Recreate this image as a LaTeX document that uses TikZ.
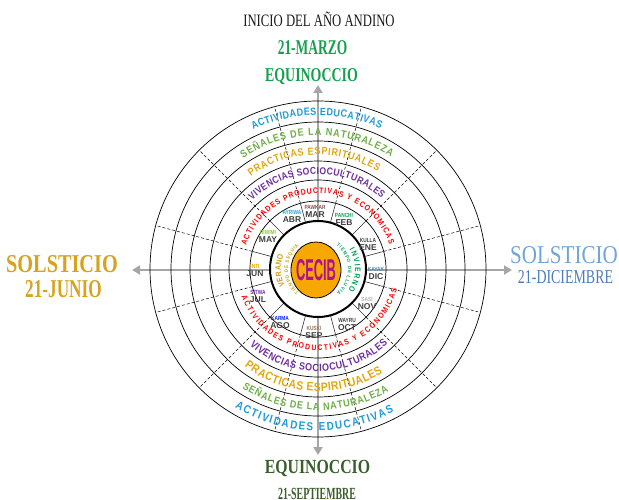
\documentclass[tikz,border=0pt]{standalone}
\usepackage{fontspec}
\setmainfont{Liberation Serif}
\newfontfamily\sansb{Liberation Sans}
\newfontfamily\sansn[FakeStretch=0.86]{Liberation Sans}
\usetikzlibrary{decorations.text,arrows.meta,calc}
\definecolor{axisgray}{HTML}{A6A6A6}
\definecolor{educ}{HTML}{1E9BD7}
\definecolor{senal}{HTML}{6DAE45}
\definecolor{pract}{HTML}{E2A70F}
\definecolor{viven}{HTML}{6E2F9E}
\definecolor{produ}{HTML}{FF0000}
\definecolor{titgreen}{HTML}{16A04E}
\definecolor{solgold}{HTML}{D8A21C}
\definecolor{solblue}{HTML}{6FA6DA}
\definecolor{dicblue}{HTML}{4A7EBB}
\definecolor{septgreen}{HTML}{3A5E2A}
\definecolor{cecibfill}{HTML}{F7A800}
\definecolor{cecibtext}{HTML}{B0108C}
\definecolor{veranoc}{HTML}{C9A010}
\definecolor{inviernoc}{HTML}{00A050}
\definecolor{monthgray}{HTML}{404040}
\definecolor{cpawkar}{HTML}{8B4B4B}
\definecolor{cayriwa}{HTML}{1CA8DD}
\definecolor{criwimi}{HTML}{8CC63F}
\definecolor{cinti}{HTML}{E0A800}
\definecolor{csitwa}{HTML}{7030A0}
\definecolor{ckarma}{HTML}{0020F0}
\definecolor{ckuski}{HTML}{A07050}
\definecolor{cwayru}{HTML}{404040}
\definecolor{csasi}{HTML}{B0B0B0}
\definecolor{ckayak}{HTML}{4F81BD}
\definecolor{ckulla}{HTML}{404040}
\definecolor{cpanchi}{HTML}{00A650}
\tikzset{
 axisline/.style={line width=2.5pt, draw=axisgray, arrows={Triangle[length=8pt,width=9pt]-Triangle[length=8pt,width=9pt]}},
 ringline/.style={draw=black, line width=0.7pt},
 sectorline/.style={draw=black, line width=0.5pt, dash pattern=on 3pt off 2pt},
 divider/.style={draw=black!80, line width=0.6pt},
 arctext/.style n args={3}{decorate, decoration={text along path, text align=fit to path, text color=#1, text={|\sansn\bfseries\fontsize{#2}{#2}\selectfont|#3}}},
 monthlbl/.style={align=center, font=\sansb\bfseries\fontsize{8.5}{8}\selectfont, text=monthgray, inner sep=0pt},
 titletext/.style={anchor=base, inner sep=0pt}
}
\newcommand\mlab[2]{{\fontsize{6}{6}\selectfont\color{#1}\scalebox{0.8}[1]{#2}}}
\begin{document}
\begin{tikzpicture}[x=1pt,y=1pt]
\useasboundingbox (0,0) rectangle (619,499);
\coordinate (C) at (318,230);
% axes
\coordinate (axT) at (318,414);
\coordinate (axB) at (318,44);
\coordinate (axL) at (132,229);
\coordinate (axR) at (512,229);
\draw[axisline] (axB) -- (axT);
\draw[axisline] (axL) -- (axR);
% rings
\foreach \r in {68,89,108,128,147,168} \draw[ringline] (C) circle (\r);
% dashed sector lines
\foreach \a in {15,45,...,345} \draw[sectorline] ($(C)+(\a:68)$) -- ($(C)+(\a:168)$);
% inner disc
\fill[white] (C) circle (48);
\foreach \a in {15,45,...,345} \draw[divider] ($(C)+(\a:48)$) -- ($(C)+(\a:68)$);
\draw[line width=2pt] (C) circle (48);
% top arc texts
\path[arctext={educ}{10.5}{ACTIVIDADES EDUCATIVAS}] ($(C)+(115:153.7)$) arc[start angle=115,end angle=66,radius=153.7];
\path[arctext={senal}{10.5}{SEÑALES DE LA NATURALEZA}] ($(C)+(124:133.7)$) arc[start angle=124,end angle=57,radius=133.7];
\path[arctext={pract}{10.5}{PRACTICAS ESPIRITUALES}] ($(C)+(126:114.2)$) arc[start angle=126,end angle=58.5,radius=114.2];
\path[arctext={viven}{10}{VIVENCIAS SOCIOCULTURALES}] ($(C)+(134:94.9)$) arc[start angle=134,end angle=48,radius=94.9];
\path[arctext={produ}{8}{ACTIVIDADES PRODUCTIVAS  Y  ECONOMICAS}] ($(C)+(162:75.6)$) arc[start angle=162,end angle=19,radius=75.6];
% bottom arc texts
\path[arctext={educ}{11.5}{ACTIVIDADES EDUCATIVAS}] ($(C)+(239:161.6)$) arc[start angle=239,end angle=298,radius=161.6];
\path[arctext={senal}{10.5}{SEÑALES DE LA NATURALEZA}] ($(C)+(237.5:141.3)$) arc[start angle=237.5,end angle=300,radius=141.3];
\path[arctext={pract}{12}{PRACTICAS ESPIRITUALES}] ($(C)+(233:122.3)$) arc[start angle=233,end angle=302,radius=122.3];
\path[arctext={viven}{10.5}{VIVENCIAS SOCIOCULTURALES}] ($(C)+(228:102.3)$) arc[start angle=228,end angle=313,radius=102.3];
\path[arctext={produ}{8}{ACTIVIDADES  PRODUCTIVAS Y  ECONOMICAS}] ($(C)+(200:81.4)$) arc[start angle=200,end angle=346,radius=81.4];
% inner texts
\path[arctext={veranoc}{8}{VERANO}] ($(C)+(207:37)$) arc[start angle=207,end angle=158,radius=37];
\path[arctext={veranoc}{5}{TIEMPO DE SEQUIA}] ($(C)+(230:30)$) arc[start angle=230,end angle=130,radius=30];
\path[arctext={inviernoc}{8}{INVIERNO}] ($(C)+(32:37)$) arc[start angle=32,end angle=-35,radius=37];
\path[arctext={inviernoc}{5}{TIEMPO DE LLUVIA}] ($(C)+(52:30)$) arc[start angle=52,end angle=-52,radius=30];
% CECIB
\draw[line width=0.8pt, fill=cecibfill] (316,229) ellipse [x radius=25, y radius=28];
\node[inner sep=0pt, text=cecibtext] (cecib) at (316,229) {\resizebox{40pt}{21pt}{\sansb\bfseries CECIB}};
% months
\node[monthlbl] (mMAR) at (315,288) {\mlab{cpawkar}{PAWKAR}\\MAR};
\node[monthlbl] (mFEB) at (344,280) {\mlab{cpanchi}{PANCHI}\\FEB};
\node[monthlbl] (mENE) at (368,255) {\mlab{ckulla}{KULLA}\\ENE};
\node[monthlbl] (mDIC) at (376,226) {\mlab{ckayak}{KAYAK}\\DIC};
\node[monthlbl] (mNOV) at (367,196) {\mlab{csasi}{SASI}\\NOV};
\node[monthlbl] (mOCT) at (347,175) {\mlab{cwayru}{WAYRU}\\OCT};
\node[monthlbl] (mSEP) at (314,167) {\mlab{ckuski}{KUSKI}\\SEP};
\node[monthlbl] (mAGO) at (280,177) {\mlab{ckarma}{KARMA}\\AGO};
\node[monthlbl] (mJUL) at (258,203) {\mlab{csitwa}{SITWA}\\JUL};
\node[monthlbl] (mJUN) at (255,229) {\mlab{cinti}{INTI}\\JUN};
\node[monthlbl] (mMAY) at (268,263) {\mlab{criwimi}{RIWIMI}\\MAY};
\node[monthlbl] (mABR) at (292,283) {\mlab{cayriwa}{AYRIWA}\\ABR};
% titles
\node[titletext, font=\fontsize{17.4}{17.4}\selectfont, text=black!90] (inicio) at (319,472) {\scalebox{0.73}[1]{INICIO DEL AÑO ANDINO}};
\node[titletext, font=\bfseries\fontsize{21}{21}\selectfont, text=titgreen] (marzo) at (312.5,444) {\scalebox{0.64}[1]{21-MARZO}};
\node[titletext, font=\bfseries\fontsize{19.6}{19.6}\selectfont, text=titgreen] (eqtop) at (311.5,417) {\scalebox{0.71}[1]{EQUINOCCIO}};
\node[titletext, font=\bfseries\fontsize{25.7}{25.7}\selectfont, text=solgold] (solL) at (62,227) {\scalebox{0.79}[1]{SOLSTICIO}};
\node[titletext, font=\bfseries\fontsize{25.7}{25.7}\selectfont, text=solgold] (junio) at (63.5,202) {\scalebox{0.67}[1]{21-JUNIO}};
\node[titletext, font=\fontsize{25.7}{25.7}\selectfont, text=solblue] (solR) at (564,236) {\scalebox{0.82}[1]{SOLSTICIO}};
\node[titletext, font=\fontsize{19.6}{19.6}\selectfont, text=dicblue] (dic) at (565.5,216) {\scalebox{0.71}[1]{21-DICIEMBRE}};
\node[titletext, font=\bfseries\fontsize{20}{20}\selectfont, text=septgreen] (eqbot) at (317.5,26) {\scalebox{0.79}[1]{EQUINOCCIO}};
\node[titletext, font=\bfseries\fontsize{17}{17}\selectfont, text=septgreen] (sept) at (317,0) {\scalebox{0.58}[1]{21-SEPTIEMBRE}};
\end{tikzpicture}
\end{document}
